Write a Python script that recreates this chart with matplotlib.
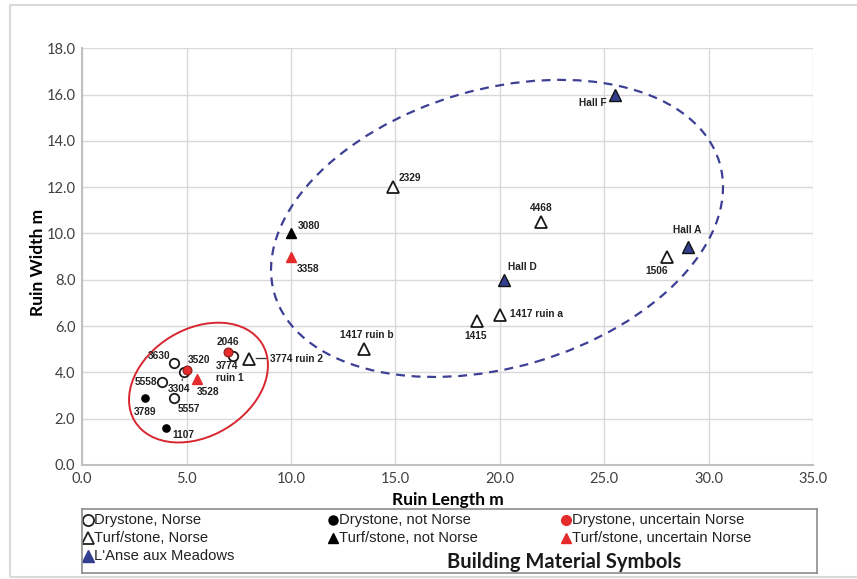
import matplotlib.pyplot as plt
import matplotlib.transforms as mtransforms
from matplotlib.patches import Ellipse, Rectangle

# ruin dimensions (length m, width m), grouped by symbol
dry_norse_names = ['3630', '5558', '3304', '5557', '3774\nruin 1']
dry_norse_len = [4.4, 3.8, 4.9, 4.4, 7.2]
dry_norse_wid = [4.4, 3.6, 4.0, 2.9, 4.7]

dry_not_names = ['3789', '1107']
dry_not_len = [3.0, 4.0]
dry_not_wid = [2.9, 1.6]

dry_unc_names = ['2046', '3520']
dry_unc_len = [7.0, 5.0]
dry_unc_wid = [4.9, 4.1]

turf_norse_names = ['3774 ruin 2', '1417 ruin b', '2329', '1415', '1417 ruin a', '4468', '1506']
turf_norse_len = [8.0, 13.5, 14.9, 18.9, 20.0, 22.0, 28.0]
turf_norse_wid = [4.6, 5.0, 12.0, 6.2, 6.5, 10.5, 9.0]

turf_not_names = ['3080']
turf_not_len = [10.0]
turf_not_wid = [10.0]

turf_unc_names = ['3528', '3358']
turf_unc_len = [5.5, 10.0]
turf_unc_wid = [3.7, 9.0]

lam_names = ['Hall D', 'Hall F', 'Hall A']
lam_len = [20.2, 25.5, 29.0]
lam_wid = [8.0, 16.0, 9.4]

x_ticks = [0, 5, 10, 15, 20, 25, 30, 35]
y_ticks = [0, 2, 4, 6, 8, 10, 12, 14, 16, 18]

# label placement: (dx px, dy px, ha, leader line)
label_pos = {
    'Hall F': (-8, -8, 'right', False), 'Hall A': (0, 17, 'center', False),
    '1506': (-10, -14, 'center', False), '4468': (0, 14, 'center', False),
    'Hall D': (4, 13, 'left', False), '1417 ruin a': (10, 1, 'left', False),
    '1415': (-1, -15, 'center', False), '1417 ruin b': (3, 14, 'center', False),
    '2329': (5, 9, 'left', False), '3080': (7, 7, 'left', False),
    '3358': (6, -12, 'left', False), '2046': (0, 10, 'center', False),
    '3774\nruin 1': (-17, -16, 'left', False), '3774 ruin 2': (21, 0, 'left', True),
    '3630': (-4, 7, 'right', False), '3520': (1, 10, 'left', False),
    '5558': (-4, 0, 'right', False), '3304': (-5, -17, 'center', True),
    '3528': (11, -13, 'center', False), '5557': (15, -11, 'center', False),
    '3789': (0, -14, 'center', False), '1107': (7, -7, 'left', False),
}

RED = '#e52b2b'
NAVY = '#34408f'
W, H = 857, 579

fig = plt.figure(figsize=(W / 100, H / 100), dpi=100)
# light frame round the picture (left, top and bottom edges show)
fig.patches.append(Rectangle((10 / W, 2 / H), 2.0, 1 - 7 / H, transform=fig.transFigure,
                             fill=False, ec='#dadada', lw=1.5))

ax = fig.add_axes([82.2 / W, 1 - 465 / H, (812.9 - 82.2) / W, (465 - 48.3) / H])
ax.set_xlim(0, 35)
ax.set_ylim(0, 18)
ax.set_xticks(x_ticks)
ax.set_yticks(y_ticks)
ax.set_xticklabels(['%.1f' % v for v in x_ticks])
ax.set_yticklabels(['%.1f' % v for v in y_ticks])
ax.grid(True, color='#d9d9d9', lw=1.0)
ax.set_axisbelow(True)
for s in ['top', 'right']:
    ax.spines[s].set_visible(False)
for s in ['left', 'bottom']:
    ax.spines[s].set_color('#c0c0c0')
    ax.spines[s].set_linewidth(1.5)
ax.tick_params(length=0, labelsize=10.5, labelcolor='#404040', pad=5)
for lab in ax.get_xticklabels() + ax.get_yticklabels():
    lab.set_family('Lato')
ax.set_xlabel('Ruin Length m', family='Lato', weight='bold', fontsize=12.5, va='center')
ax.xaxis.set_label_coords(0.5, -(500 - 465) / (465 - 48.3))
ax.set_ylabel('Ruin Width m', family='Lato', weight='bold', fontsize=12.5, va='center')
ax.yaxis.set_label_coords(-(82.2 - 38) / (812.9 - 82.2), (465 - 262) / (465 - 48.3))

# grouping ellipses (size in inches, centred on a data point)
def ring(cx, cy, w, h, ang, **kw):
    tr = fig.dpi_scale_trans + mtransforms.ScaledTranslation(cx, cy, ax.transData)
    ax.add_patch(Ellipse((0, 0), w, h, angle=ang, transform=tr, fill=False, **kw))

ring(19.87, 10.22, 4.64, 2.78, 16.4, ec='#3d3f95', lw=1.6, ls=(0, (4, 3)))
ring(5.57, 3.56, 1.49, 1.07, 31.3, ec='#d8262f', lw=1.4)

groups = [
    (dry_norse_len, dry_norse_wid, dry_norse_names, dict(marker='o', ms=6.8, mfc='white', mec='#1a1a1a', mew=1.3)),
    (dry_not_len, dry_not_wid, dry_not_names, dict(marker='o', ms=5.2, mfc='black', mec='black')),
    (dry_unc_len, dry_unc_wid, dry_unc_names, dict(marker='o', ms=6.4, mfc=RED, mec='#8b1a1a', mew=0.8)),
    (turf_norse_len, turf_norse_wid, turf_norse_names, dict(marker='^', ms=8.6, mfc='white', mec='#1a1a1a', mew=1.3)),
    (turf_not_len, turf_not_wid, turf_not_names, dict(marker='^', ms=7.2, mfc='black', mec='black')),
    (turf_unc_len, turf_unc_wid, turf_unc_names, dict(marker='^', ms=7.2, mfc=RED, mec=RED)),
    (lam_len, lam_wid, lam_names, dict(marker='^', ms=9.0, mfc=NAVY, mec='#111111', mew=1.0)),
]
for xs, ys, names, style in groups:
    ax.plot(xs, ys, ls='none', zorder=3, **style)
    for x, y, name in zip(xs, ys, names):
        dx, dy, ha, leader = label_pos[name]
        arrow = dict(arrowstyle='-', color='#333333', lw=0.9, shrinkA=1, shrinkB=5) if leader else None
        ax.annotate(name, (x, y), xytext=(dx, dy), textcoords='offset pixels',
                    ha=ha, va='center', fontsize=7.3, weight='bold', color='#222222',
                    family='Liberation Sans', linespacing=1.3, arrowprops=arrow, zorder=4)

# legend box drawn by hand
lg = fig.add_axes([82 / W, 1 - 573 / H, (817 - 82) / W, (573 - 509) / H])
lg.set_xlim(82, 817)
lg.set_ylim(573, 509)
lg.set_xticks([])
lg.set_yticks([])
for s in lg.spines.values():
    s.set_color('#8c8c8c')
    s.set_linewidth(1.2)

leg_items = [
    (88, 520, 'Drystone, Norse', dict(marker='o', ms=8, mfc='white', mec='#222222', mew=1.3)),
    (333, 520, 'Drystone, not Norse', dict(marker='o', ms=6.5, mfc='black', mec='black')),
    (566, 520, 'Drystone, uncertain Norse', dict(marker='o', ms=7, mfc=RED, mec=RED)),
    (88, 538, 'Turf/stone, Norse', dict(marker='^', ms=9, mfc='white', mec='#222222', mew=1.3)),
    (333, 538, 'Turf/stone, not Norse', dict(marker='^', ms=7, mfc='black', mec='black')),
    (566, 538, 'Turf/stone, uncertain Norse', dict(marker='^', ms=7, mfc=RED, mec=RED)),
    (88, 556, "L'Anse aux Meadows", dict(marker='^', ms=9, mfc=NAVY, mec=NAVY)),
]
for x, y, text, style in leg_items:
    lg.plot([x], [y], ls='none', **style)
    lg.text(x + 6, y, text, va='center', ha='left', fontsize=10.6,
            family='Liberation Sans', color='#222222')
lg.text(564, 562, 'Building Material Symbols', ha='center', va='center',
        fontsize=14.5, weight='bold', family='Lato', color='#1a1a1a')

fig.savefig('out.png', dpi=100)
